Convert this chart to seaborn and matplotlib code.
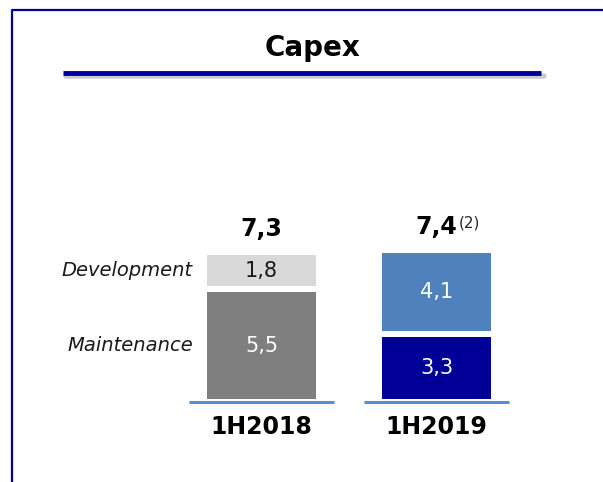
import matplotlib.pyplot as plt
import seaborn as sns
from matplotlib.lines import Line2D

periods = ["1H2018", "1H2019"]
maintenance = [5.5, 3.3]
development = [1.8, 4.1]
segment_names = ["Maintenance", "Development"]
total_notes = ["", "(2)"]
maint_colors = ["#7f7f7f", "#000099"]
dev_colors = ["#d9d9d9", "#4f81bd"]
maint_text = ["white", "white"]
dev_text = ["#1a1a1a", "white"]

W, H, DPI = 6.03, 4.82, 100
sns.set_theme(style="white")
plt.rcParams["font.family"] = ["DejaVu Sans"]


def fmt(v):
    return f"{v:.1f}".replace(".", ",")


fig = plt.figure(figsize=(W, H), dpi=DPI)
ax = fig.add_axes([0, 0, 1, 1])
ax.patch.set_alpha(0)

px_x = 175.0   # pixels per category step
px_y = 20.5    # pixels per unit of value
edge_px = 6
bar_w = (109 + edge_px) / px_x
lw_pt = edge_px * 72 / DPI

sns.barplot(x=periods, y=maintenance, width=bar_w, errorbar=None, color="grey",
            edgecolor="white", linewidth=lw_pt, ax=ax)
sns.barplot(x=periods, y=development, bottom=maintenance, width=bar_w, errorbar=None,
            color="grey", edgecolor="white", linewidth=lw_pt, ax=ax)

bars = ax.patches
for i in range(len(periods)):
    bars[i].set_facecolor(maint_colors[i])
    bars[len(periods) + i].set_facecolor(dev_colors[i])

xs = list(range(len(periods)))
for i in xs:
    m, d = maintenance[i], development[i]
    ax.text(i, m / 2, fmt(m), ha="center", va="center", fontsize=15, color=maint_text[i])
    ax.text(i, m + d / 2, fmt(d), ha="center", va="center", fontsize=15, color=dev_text[i])
    t = ax.annotate(fmt(m + d), xy=(i, m + d), xytext=(0, 8), textcoords="offset points",
                    ha="center", va="bottom", fontsize=17, fontweight="bold", color="black")
    if total_notes[i]:
        ax.annotate(total_notes[i], xy=(1, 1), xycoords=t, xytext=(1, 0),
                    textcoords="offset points", ha="left", va="top", fontsize=11)

# segment names to the left of the first bar
seg_y = [maintenance[0] / 2, maintenance[0] + development[0] / 2]
for name, y in zip(segment_names, seg_y):
    ax.annotate(name, xy=(-bar_w / 2, y), xytext=(-8, 0), textcoords="offset points",
                ha="right", va="center", fontsize=14, style="italic", color="#1a1a1a")

# baseline segments
ax.hlines([0] * len(xs), [x - 0.415 for x in xs], [x + 0.415 for x in xs],
          color="#5b8bd0", lw=2.2, zorder=5)

ax.set_xlim(-261.5 / px_x, (603 - 261.5) / px_x)
ax.set_ylim(-80 / px_y, (482 - 80) / px_y)
ax.spines["bottom"].set_position(("data", 0))
ax.set_xticks(xs, periods)
ax.set_yticks([])
ax.tick_params(axis="x", length=0, pad=9)
for lab in ax.get_xticklabels():
    lab.set_fontsize(17)
    lab.set_fontweight("bold")
    lab.set_color("black")
ax.set_xlabel("")
ax.set_ylabel("")
for s in ax.spines.values():
    s.set_visible(False)

# title and underline
fig.text(313 / W / DPI, 1 - 48 / (H * DPI), "Capex", ha="center", va="center",
         fontsize=20, fontweight="bold", color="black")
ly = 1 - 73 / (H * DPI)
fig.add_artist(Line2D([66 / 603, 544 / 603], [ly - 3 / 482] * 2, lw=4, color="#9a9a9a", alpha=0.5))
fig.add_artist(Line2D([63 / 603, 541 / 603], [ly, ly], lw=3.5, color="#000099",
                      solid_capstyle="butt"))

# frame border
fig.add_artist(Line2D([12 / 603, 12 / 603, 1], [0, 1 - 10 / 482, 1 - 10 / 482],
                      lw=1.6, color="#0000a0"))

fig.savefig("out.png", dpi=DPI)
